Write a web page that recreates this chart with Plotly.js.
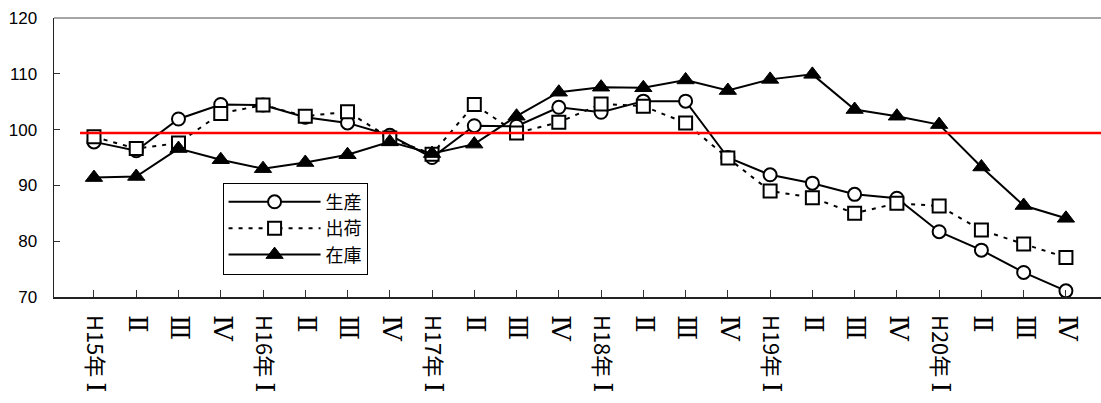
<!DOCTYPE html>
<html>
<head>
<meta charset="utf-8">
<script src="https://cdn.plot.ly/plotly-3.0.1.min.js"></script>
<style>html,body{margin:0;padding:0;background:#fff;}#chart{width:1101px;height:403px;}</style>
</head>
<body>
<div id="chart"></div>
<script>
// Category labels (quarters)
const categories = [
  "H15年 Ⅰ","Ⅱ","Ⅲ","Ⅳ",
  "H16年 Ⅰ","Ⅱ","Ⅲ","Ⅳ",
  "H17年 Ⅰ","Ⅱ","Ⅲ","Ⅳ",
  "H18年 Ⅰ","Ⅱ","Ⅲ","Ⅳ",
  "H19年 Ⅰ","Ⅱ","Ⅲ","Ⅳ",
  "H20年 Ⅰ","Ⅱ","Ⅲ","Ⅳ"
];
// 生産 (production)
const production = [97.8,96.2,101.9,104.5,104.4,102.2,101.2,99.0,95.0,100.7,100.6,104.0,
                    103.1,105.1,105.1,95.0,91.9,90.4,88.4,87.7,81.7,78.4,74.4,71.1];
// 出荷 (shipments)
const shipments = [98.7,96.6,97.6,102.9,104.4,102.4,103.2,98.5,95.6,104.5,99.4,101.3,
                   104.6,104.2,101.2,94.9,89.0,87.8,85.0,86.8,86.3,82.0,79.5,77.1];
// 在庫 (inventory)
const inventory = [91.4,91.6,96.6,94.6,93.0,94.1,95.5,97.8,95.7,97.4,102.4,106.7,
                   107.6,107.5,108.9,107.0,109.0,109.9,103.6,102.4,100.9,93.3,86.4,84.1];
const seriesNames = ["生産","出荷","在庫"];
const referenceLevel = 99.4;
const yTicks = [70,80,90,100,110,120];

const idx = categories.map((_, i) => i);
// render the roman numerals with a serif face so they get bars like the original
const tickText = categories.map(s =>
  s.replace(/([ⅠⅡⅢⅣ])/g, '<span style="font-family:\'DejaVu Serif\';font-size:26px">$1</span>'));

const traces = [
  {
    x: idx, y: production, name: seriesNames[0], type: "scatter", mode: "lines+markers",
    line: {color: "#000", width: 2},
    marker: {symbol: "circle", size: 13, color: "#fff", line: {color: "#000", width: 2}}
  },
  {
    x: idx, y: shipments, name: seriesNames[1], type: "scatter", mode: "lines+markers",
    line: {color: "#000", width: 2, dash: "4px,6px"},
    marker: {symbol: "square", size: 13, color: "#fff", line: {color: "#000", width: 2}}
  },
  {
    x: idx, y: inventory, name: seriesNames[2], type: "scatter", mode: "lines+markers",
    line: {color: "#000", width: 2},
    marker: {symbol: "triangle-up", size: 15, color: "#000", line: {color: "#000", width: 1}}
  }
];

const layout = {
  width: 1101, height: 403,
  margin: {l: 54, r: 0, t: 18, b: 106},
  paper_bgcolor: "#fff", plot_bgcolor: "#fff",
  showlegend: true,
  legend: {
    x: 0.161, y: 0.41, xanchor: "left", yanchor: "top",
    bgcolor: "#fff", bordercolor: "#000", borderwidth: 1,
    font: {family: "Noto Sans CJK JP", size: 18, color: "#000"},
    itemwidth: 92, tracegroupgap: 0
  },
  xaxis: {
    range: [-0.946, 23.83],
    tickmode: "array", tickvals: idx, ticktext: tickText,
    tickangle: 90,
    ticks: "inside", ticklen: 7, tickcolor: "#333", tickwidth: 1,
    ticklabelstandoff: 12,
    showline: true, linecolor: "#222", linewidth: 1.5,
    showgrid: false, zeroline: false,
    tickfont: {family: "Noto Sans CJK JP", size: 22, color: "#000"}
  },
  yaxis: {
    range: [70, 120],
    tickmode: "array", tickvals: yTicks,
    ticks: "inside", ticklen: 6, tickcolor: "#333", tickwidth: 1,
    ticklabelstandoff: 12,
    showline: true, linecolor: "#222", linewidth: 1.5,
    showgrid: false, zeroline: false,
    tickfont: {family: "Liberation Sans, Arial, sans-serif", size: 17, color: "#000"}
  },
  shapes: [
    {type: "line", xref: "paper", yref: "paper", x0: 0, x1: 1, y0: 1, y1: 1,
     line: {color: "#888", width: 1.5}, layer: "below"},
    {type: "line", xref: "x", yref: "y", x0: -0.33, x1: 23.83, y0: referenceLevel, y1: referenceLevel,
     line: {color: "#ff0000", width: 2.5}, layer: "above"}
  ]
};

Plotly.newPlot("chart", traces, layout, {displayModeBar: false, staticPlot: true});
</script>
</body>
</html>
